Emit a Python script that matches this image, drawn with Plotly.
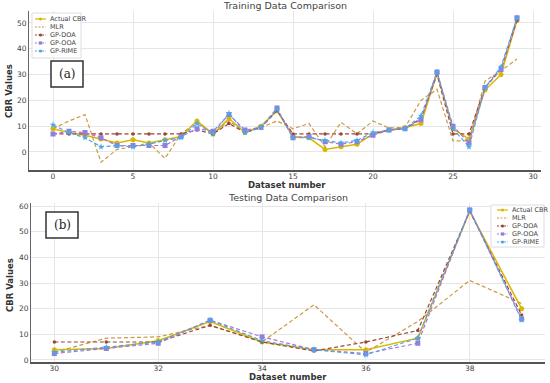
import plotly.graph_objects as go

W, H = 550, 383

# ---------------- data ----------------
train_x = list(range(0, 30))
train_actual = [9, 7.5, 6.5, 5, 3.5, 4.7, 3.5, 4.7, 6, 12, 7, 13, 7.5, 10, 16,
                6, 5.5, 1, 2, 3, 7, 8.5, 9.5, 11, 30.5, 9, 5, 24, 30, 51]
train_mlr = [9, 12, 14.5, -4, 1, 2, 3.5, -2.5, 7, 11.5, 7, 12, 7.5, 9.5, 12,
             9, 11, 2, 11.5, 7, 12, 9.3, 9.5, 20, 24.3, 4.3, 4.3, 27.5, 31.5, 36]
train_doa = [7, 7, 7, 7, 7, 7, 7, 7, 7, 8.5, 7, 11, 7.5, 9.5, 16,
             7, 7, 7, 7, 7, 7, 8.5, 9, 13, 30, 7, 7, 25, 32, 51]
train_ooa = [7, 8, 7.5, 5.5, 2.5, 2.5, 2.5, 2.5, 6, 9, 8, 14.5, 8.5, 9.5, 17,
             5.5, 6, 4, 3, 4, 6.5, 8.5, 9, 12.5, 31, 10, 3.5, 25, 32, 52]
train_rime = [10.5, 7.5, 5.5, 2, 2.5, 2, 3, 4.5, 5.5, 11, 7, 15, 7.5, 9.5, 16.5,
              5.5, 5.5, 4.5, 3.5, 4.5, 7.5, 8.5, 9, 14, 31, 9, 2, 25, 33, 52]

test_x = list(range(30, 40))
test_actual = [4, 4.5, 7.5, 15, 7, 4, 4, 8.5, 58, 20]
test_mlr = [3, 8.5, 9, 13.5, 7, 21.5, 3, 15, 31, 22]
test_doa = [7, 7, 7, 13.5, 7, 3.5, 7, 11.5, 58, 17.5]
test_ooa = [2.5, 4.5, 6.5, 15.5, 9, 4, 2.5, 6.5, 58.5, 16]
test_rime = [3, 5, 7, 15.5, 7.5, 4, 2, 8.5, 58.5, 15.5]

series_names = ["Actual CBR", "MLR", "GP-DOA", "GP-OOA", "GP-RIME"]

train_tick_vals = [0, 5, 10, 15, 20, 25, 30]
test_tick_vals = [30, 32, 34, 36, 38]
train_y_ticks = [0, 10, 20, 30, 40, 50]
test_y_ticks = [0, 10, 20, 30, 40, 50, 60]

# ---------------- styles ----------------
styles = {
    "Actual CBR": dict(color="#d9b800", dash="solid", symbol="circle", msize=5, width=1.5),
    "MLR": dict(color="#c99a45", dash="4px,2.5px", symbol=None, msize=0, width=1.2),
    "GP-DOA": dict(color="#9c4538", dash="4px,2.5px", symbol="circle", msize=3.5, width=1.2),
    "GP-OOA": dict(color="#b06fd6", dash="4px,2.5px", symbol="square", msize=5, width=1.2),
    "GP-RIME": dict(color="#4da6e8", dash="4px,2.5px", symbol="star", msize=5, width=1.2),
}
marker_colors = {"GP-OOA": "#8f7fe0"}


def px_x(p):
    return p / W


def px_y(p):
    return 1 - p / H


fig = go.Figure()

train_sets = [train_actual, train_mlr, train_doa, train_ooa, train_rime]
test_sets = [test_actual, test_mlr, test_doa, test_ooa, test_rime]


def add_series(xs, sets, xa, ya):
    for name, ys in zip(series_names, sets):
        s = styles[name]
        mode = "lines+markers" if s["symbol"] else "lines"
        fig.add_trace(go.Scatter(
            x=xs, y=ys, name=name, mode=mode, xaxis=xa, yaxis=ya,
            line=dict(color=s["color"], dash=s["dash"], width=s["width"]),
            marker=dict(symbol=s["symbol"] or "circle", size=s["msize"],
                        color=marker_colors.get(name, s["color"])),
            showlegend=False))


add_series(train_x, train_sets, "x", "y")
add_series(test_x, test_sets, "x2", "y2")

tick_font = dict(family="DejaVu Sans", size=7.5, color="#444444")
title_font = dict(family="DejaVu Sans", size=8.5, color="#333333")

common_x = dict(showgrid=True, gridcolor="#e6e6e6", gridwidth=1, zeroline=False,
                showline=True, linecolor="#555555", linewidth=2,
                ticks="", tickfont=tick_font, automargin=False, ticklabelstandoff=-2)
common_y = dict(showgrid=True, gridcolor="#e6e6e6", gridwidth=1, zeroline=False,
                showline=True, linecolor="#666666", linewidth=1,
                ticks="", tickfont=tick_font, automargin=False)

fig.update_layout(
    width=W, height=H,
    margin=dict(l=0, r=0, t=0, b=0, autoexpand=False),
    paper_bgcolor="white", plot_bgcolor="white",
    font=dict(family="DejaVu Sans"),
    hovermode=False,
    xaxis=dict(common_x, domain=[px_x(29), px_x(541)], range=[-1.5, 30.5],
               tickvals=train_tick_vals, anchor="y"),
    yaxis=dict(common_y, domain=[px_y(169.5), px_y(10.6)], range=[-6.8, 54.8],
               tickvals=train_y_ticks, anchor="x"),
    xaxis2=dict(common_x, domain=[px_x(31), px_x(545)], range=[29.55, 39.45],
                tickvals=test_tick_vals, anchor="y2"),
    yaxis2=dict(common_y, domain=[px_y(362), px_y(203)], range=[-0.8, 61.2],
                tickvals=test_y_ticks, anchor="x2"),
)

annotations = []
shapes = []


def text(t, x, y, font, xanchor="center", **kw):
    annotations.append(dict(text=t, x=px_x(x), y=px_y(y), xref="paper", yref="paper",
                            showarrow=False, font=font, xanchor=xanchor,
                            yanchor="middle", **kw))


# subplot titles
sub_font = dict(family="DejaVu Sans", size=9.5, color="#444444")
text("Training Data Comparison", 285, 6, sub_font)
text("Testing Data Comparison", 288, 197, sub_font)

# axis titles
xt_font = dict(family="DejaVu Sans", size=8.5, color="#333333")
text("<b>Dataset number</b>", 287, 184.5, xt_font)
text("<b>Dataset number</b>", 288, 377, xt_font)
text("<b>CBR Values</b>", 9, 91, title_font, textangle=-90)
text("<b>CBR Values</b>", 10, 285, title_font, textangle=-90)

# panel labels
for lbl, (x0, y0, x1, y1) in [("(a)", (51, 61, 83, 87)), ("(b)", (46, 212, 78, 238))]:
    shapes.append(dict(type="rect", xref="paper", yref="paper",
                       x0=px_x(x0), x1=px_x(x1), y0=px_y(y1), y1=px_y(y0),
                       line=dict(color="#333333", width=1.5), fillcolor="white"))
    text(lbl, (x0 + x1) / 2, (y0 + y1) / 2,
         dict(family="DejaVu Serif", size=12, color="#222222"))


def draw_legend(box, line_x0, line_x1, text_x, ys):
    bx0, by0, bx1, by1 = box
    shapes.append(dict(type="rect", xref="paper", yref="paper",
                       x0=px_x(bx0), x1=px_x(bx1), y0=px_y(by1), y1=px_y(by0),
                       line=dict(color="#dddddd", width=1), fillcolor="rgba(255,255,255,0.85)"))
    for name, yy in zip(series_names, ys):
        s = styles[name]
        shapes.append(dict(type="line", xref="paper", yref="paper",
                           x0=px_x(line_x0), x1=px_x(line_x1), y0=px_y(yy), y1=px_y(yy),
                           line=dict(color=s["color"], width=1.2,
                                     dash="solid" if s["dash"] == "solid" else "2px,1.5px")))
        if s["symbol"]:
            cx = (line_x0 + line_x1) / 2
            r = 1.6
            shapes.append(dict(type="rect" if s["symbol"] == "square" else "circle",
                               xref="paper", yref="paper",
                               x0=px_x(cx - r), x1=px_x(cx + r), y0=px_y(yy + r), y1=px_y(yy - r),
                               line=dict(width=0), fillcolor=marker_colors.get(name, s["color"])))
        text(name, text_x, yy, dict(family="DejaVu Sans", size=6.5, color="#444444"),
             xanchor="left")


draw_legend((32, 13, 81, 58), 35, 46, 48, [19, 27, 35, 43, 51])
draw_legend((491, 205, 544, 247), 497, 508, 510, [210, 218, 226, 234, 242])

fig.update_layout(annotations=annotations, shapes=shapes)

fig.write_html("out.html", config={"displayModeBar": False},
               post_script="document.body.style.margin='0';document.body.style.overflow='hidden';")
